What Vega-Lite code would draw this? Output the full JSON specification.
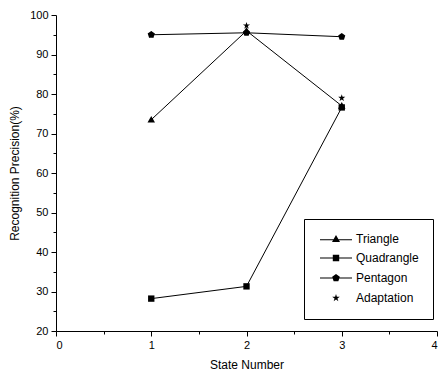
{
  "$schema": "https://vega.github.io/schema/vega-lite/v6.json",
  "width": 381,
  "height": 316,
  "autosize": "none",
  "padding": {"left": 56, "top": 15, "right": 8, "bottom": 49},
  "background": "white",
  "config": {
    "font": "Liberation Sans",
    "view": {"stroke": null},
    "axis": {"labelColor": "black", "titleColor": "black", "domainColor": "black", "tickColor": "black", "labelFontSize": 11, "titleFontSize": 12, "titleFontWeight": "normal", "grid": false, "labelOverlap": false}
  },
  "data": {
    "values": [
      {"series": "Adaptation", "state": 1, "value": 95},
      {"series": "Adaptation", "state": 2, "value": 97.3},
      {"series": "Adaptation", "state": 3, "value": 79},
      {"series": "Triangle", "state": 1, "value": 73.5},
      {"series": "Triangle", "state": 2, "value": 96},
      {"series": "Triangle", "state": 3, "value": 77},
      {"series": "Quadrangle", "state": 1, "value": 28.2},
      {"series": "Quadrangle", "state": 2, "value": 31.3},
      {"series": "Quadrangle", "state": 3, "value": 76.6},
      {"series": "Pentagon", "state": 1, "value": 95},
      {"series": "Pentagon", "state": 2, "value": 95.5},
      {"series": "Pentagon", "state": 3, "value": 94.5}
    ]
  },
  "resolve": {"scale": {"shape": "independent"}, "axis": {"y": "independent"}},
  "layer": [
    {
      "transform": [{"filter": "datum.series !== 'Adaptation'"}],
      "mark": {"type": "line", "color": "black", "strokeWidth": 1},
      "encoding": {
        "x": {"field": "state", "type": "quantitative", "scale": {"domain": [0, 4]},
          "axis": {"values": [0, 0.5, 1, 1.5, 2, 2.5, 3, 3.5, 4], "labelExpr": "datum.value % 1 === 0 ? format(datum.value, 'd') : ''", "title": "State Number", "labelOverlap": false,
            "tickSize": {"condition": {"test": "datum.value % 1 === 0", "value": 5}, "value": 3}, "labelPadding": 3, "titlePadding": 9}},
        "y": {"field": "value", "type": "quantitative", "scale": {"domain": [20, 100]},
          "axis": {"orient": "left", "values": [20, 30, 40, 50, 60, 70, 80, 90, 100], "format": "d", "title": "Recognition Precision(%)", "labelOverlap": false,
            "tickSize": 5, "labelPadding": 3, "titlePadding": 8}},
        "detail": {"field": "series"}
      }
    },
    {
      "mark": {"type": "point", "filled": true, "color": "black", "size": 56, "opacity": 1},
      "encoding": {
        "x": {"field": "state", "type": "quantitative"},
        "y": {"field": "value", "type": "quantitative", "axis": {"orient": "left", "values": [25, 35, 45, 55, 65, 75, 85, 95], "labels": false, "domain": false, "title": null, "tickSize": 3}},
        "shape": {
          "field": "series",
          "type": "nominal",
          "legend": null,
          "scale": {
            "domain": ["Triangle", "Quadrangle", "Pentagon", "Adaptation"],
            "range": [
              "M0,-1L1,0.75L-1,0.75Z",
              "M-0.85,-0.85L0.85,-0.85L0.85,0.85L-0.85,0.85Z",
              "M0,-1L0.951,-0.309L0.588,0.809L-0.588,0.809L-0.951,-0.309Z",
              "M0,-1L0.2245,-0.309L0.951,-0.309L0.363,0.118L0.588,0.809L0,0.382L-0.588,0.809L-0.363,0.118L-0.951,-0.309L-0.2245,-0.309Z"
            ]
          }
        }
      }
    },
    {
      "transform": [{"filter": "datum.state > 10"}],
      "mark": {"type": "point", "filled": true, "color": "black", "size": 64, "opacity": 1},
      "encoding": {
        "x": {"field": "state", "type": "quantitative"},
        "y": {"field": "value", "type": "quantitative", "axis": null},
        "shape": {
          "field": "series",
          "type": "nominal",
          "scale": {
            "domain": ["Triangle", "Quadrangle", "Pentagon", "Adaptation"],
            "range": [
              "M-4,0.08L4,0.08L4,0.33L-4,0.33ZM0,-1L1,0.75L-1,0.75Z",
              "M-4,-0.12L4,-0.12L4,0.12L-4,0.12ZM-0.8,-0.8L0.8,-0.8L0.8,0.8L-0.8,0.8Z",
              "M-4,-0.12L4,-0.12L4,0.12L-4,0.12ZM0,-1L0.951,-0.309L0.588,0.809L-0.588,0.809L-0.951,-0.309Z",
              "M0,-1L0.2245,-0.309L0.951,-0.309L0.363,0.118L0.588,0.809L0,0.382L-0.588,0.809L-0.363,0.118L-0.951,-0.309L-0.2245,-0.309Z"
            ]
          },
          "legend": {
            "title": null,
            "orient": "none",
            "legendX": 248,
            "legendY": 204,
            "strokeColor": "black",
            "padding": 14,
            "symbolOffset": 12,
            "labelOffset": 14,
            "labelFontSize": 12,
            "labelColor": "black",
            "rowPadding": 6,
            "symbolSize": 64,
            "symbolFillColor": "black",
            "symbolOpacity": 1
          }
        }
      }
    }
  ]
}
